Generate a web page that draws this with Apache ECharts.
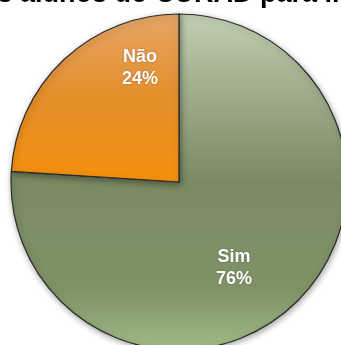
<!DOCTYPE html>
<html><head><meta charset="utf-8">
<script src="https://cdn.jsdelivr.net/npm/echarts@6/dist/echarts.min.js"></script>
<style>html,body{margin:0;padding:0;background:#fff}#c{width:341px;height:345px}</style>
</head><body><div id="c"></div>
<script>
const titleText = 'Uso dos alunos do CURAD para internet';
const categories = ['Sim', 'Não'];
const values = [76, 24];

const sliceColors = [
  {type:'linear',x:0,y:0,x2:0,y2:1,colorStops:[
    {offset:0,color:'#c2cfb6'},{offset:0.18,color:'#a5b593'},{offset:0.5,color:'#7b8a62'},
    {offset:0.82,color:'#7f9366'},{offset:1,color:'#a0ba86'}]},
  {type:'linear',x:0,y:0,x2:0,y2:1,colorStops:[
    {offset:0,color:'#e6a566'},{offset:0.5,color:'#e38e2a'},{offset:1,color:'#f5900c'}]}
];
const labelShift = [[-4.5, 23], [20.5, -51]];

const chart = echarts.init(document.getElementById('c'), null, {renderer:'canvas'});
chart.setOption({
  animation:false,
  graphic:[{type:'text',left:-94,top:-19,style:{text:titleText,font:'bold 27px "Liberation Sans", Arial, sans-serif',fill:'#000'}}],
  series:[{
    type:'pie',
    center:[179,182],
    radius:[0,168],
    startAngle:90,
    clockwise:true,
    data:categories.map((c,i)=>({name:c,value:values[i],itemStyle:{color:sliceColors[i]}})),
    itemStyle:{borderColor:'#2b2b2b',borderWidth:1.2,shadowBlur:6,shadowColor:'rgba(0,0,0,0.35)',shadowOffsetX:1,shadowOffsetY:2},
    label:{show:true,position:'inside',formatter:'{b}\n{d}%',color:'#fff',fontFamily:'"Liberation Sans", Arial, sans-serif',fontWeight:'bold',fontSize:18,lineHeight:22,textShadowColor:'rgba(0,0,0,0.3)',textShadowBlur:2},
    labelLayout:function(p){return {dx:labelShift[p.dataIndex][0],dy:labelShift[p.dataIndex][1]};},
    labelLine:{show:false},
    emphasis:{disabled:true}
  }]
});
</script></body></html>
